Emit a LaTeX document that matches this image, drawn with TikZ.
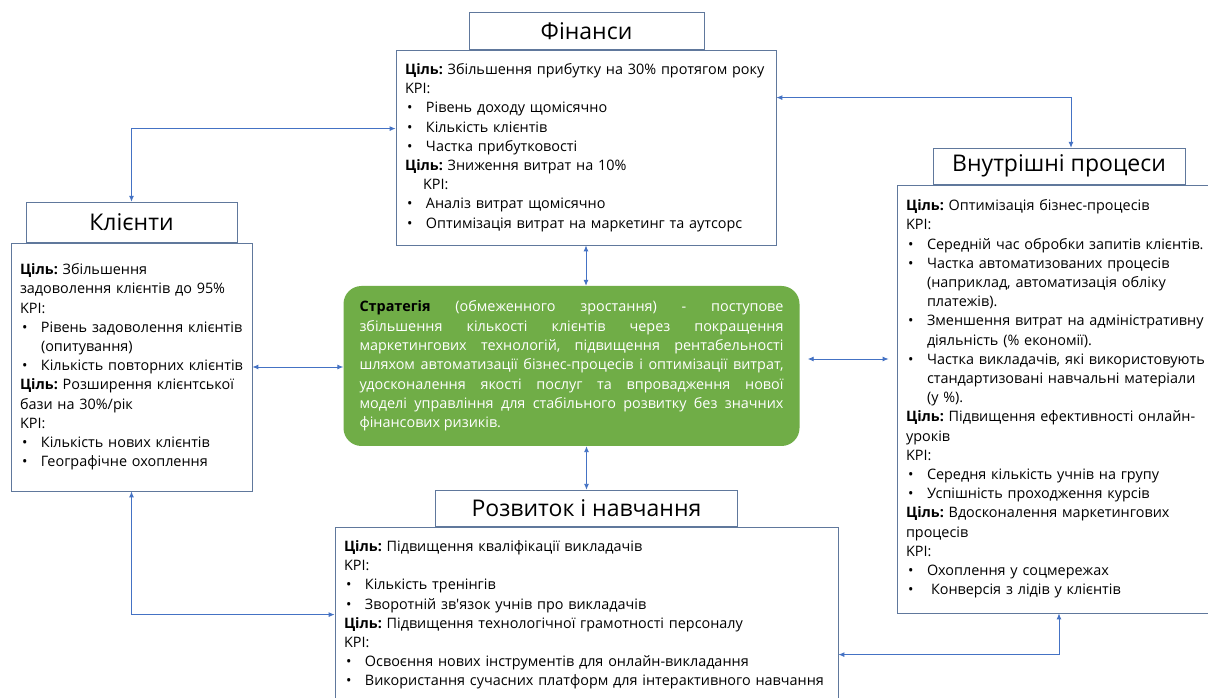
\documentclass[tikz,border=0pt]{standalone}
\usepackage{fontspec}
\setmainfont{Open Sans}
\usepackage{xcolor}
\usetikzlibrary{arrows.meta, positioning, calc}

\definecolor{boxline}{RGB}{96,120,156}
\definecolor{linkblue}{RGB}{68,114,196}
\definecolor{stratgreen}{RGB}{112,173,71}

\newcommand{\goal}{\textbf{Ціль:} }
\newcommand{\itm}{\makebox[21pt][l]{\hspace{2pt}•}}
\newcommand{\cnt}{\hspace*{21pt}}
\frenchspacing

\begin{document}
\begin{tikzpicture}[
    x=1pt, y=1pt,
    panel/.style={rectangle, draw=boxline, fill=white, line width=0.8pt, align=left, inner xsep=9pt, inner ysep=0pt, font=\fontsize{14.4}{19.2}\selectfont},
    heading/.style={rectangle, draw=boxline, fill=white, line width=0.8pt, minimum height=37pt, font=\fontsize{23}{26}\selectfont},
    strategy/.style={rectangle, rounded corners=18pt, fill=stratgreen, text width=424pt, align=justify, inner xsep=16pt, minimum height=160pt, font=\fontsize{14.4}{19.3}\selectfont, text=white},
    arrow/.style={{Latex[length=6pt,width=5pt]}-{Latex[length=6pt,width=5pt]}, linkblue, line width=0.9pt}
]
\useasboundingbox[fill=white] (0,0) rectangle (1208,697);

% Finance
\node[panel, text width=362pt, minimum height=195pt] (fin) at (586,549.5) {%
\goal Збільшення прибутку на 30\% протягом року\\
KPI:\\
\itm Рівень доходу щомісячно\\
\itm Кількість клієнтів\\
\itm Частка прибутковості\\
\goal Зниження витрат на 10\%\\
\hspace*{18pt}KPI:\\
\itm Аналіз витрат щомісячно\\
\itm Оптимізація витрат на маркетинг та аутсорс};
\node[heading, above=0pt of fin, xshift=0.5pt, minimum width=235pt] (fintitle) {Фінанси};

% Clients
\node[panel, text width=223pt, minimum height=248pt] (kl) at (131.5,330) {%
\goal Збільшення\\
задоволення клієнтів до 95\%\\
KPI:\\
\itm Рівень задоволення клієнтів\\
\cnt(опитування)\\
\itm Кількість повторних клієнтів\\
\goal Розширення клієнтської\\
бази на 30\%/рік\\
KPI:\\
\itm Кількість нових клієнтів\\
\itm Географічне охоплення};
\node[heading, above=0pt of kl, minimum width=211pt, minimum height=40pt] (kltitle) {Клієнти};

% Internal processes
\node[panel, text width=320pt, minimum height=428pt] (vp) at (1066,298) {%
\goal Оптимізація бізнес-процесів\\
KPI:\\
\itm Середній час обробки запитів клієнтів.\\
\itm Частка автоматизованих процесів\\
\cnt(наприклад, автоматизація обліку\\
\cnt платежів).\\
\itm Зменшення витрат на адміністративну\\
\cnt діяльність (\% економії).\\
\itm Частка викладачів, які використовують\\
\cnt стандартизовані навчальні матеріали\\
\cnt(у \%).\\
\goal Підвищення ефективності онлайн-\\
уроків\\
KPI:\\
\itm Середня кількість учнів на групу\\
\itm Успішність проходження курсів\\
\goal Вдосконалення маркетингових\\
процесів\\
KPI:\\
\itm Охоплення у соцмережах\\
\itm\hspace*{4pt}Конверсія з лідів у клієнтів};
\node[heading, above=0pt of vp, xshift=-7pt, minimum width=252pt, minimum height=36pt] (vptitle) {Внутрішні процеси};

% Learning and growth
\node[panel, text width=485pt, minimum height=176pt] (rn) at (586.5,82) {%
\goal Підвищення кваліфікації викладачів\\
KPI:\\
\itm Кількість тренінгів\\
\itm Зворотній зв\textquotesingle язок учнів про викладачів\\
\goal Підвищення технологічної грамотності персоналу\\
KPI:\\
\itm Освоєння нових інструментів для онлайн-викладання\\
\itm Використання сучасних платформ для інтерактивного навчання};
\node[heading, above=0pt of rn, minimum width=302pt, minimum height=36pt] (rntitle) {Розвиток і навчання};

% Strategy
\node[strategy] (str) at (571.5,331) {%
\hyphenpenalty=10000\exhyphenpenalty=10000\relax
\textcolor{black}{\textbf{Стратегія}} (обмеженного зростання) - поступове\linebreak
збільшення кількості клієнтів через покращення\linebreak
маркетингових технологій, підвищення рентабельності\linebreak
шляхом автоматизації бізнес-процесів і оптимізації витрат,\linebreak
удосконалення якості послуг та впровадження нової\linebreak
моделі управління для стабільного розвитку без значних\linebreak
фінансових ризиків.};

% Links
\draw[arrow] (kltitle.north) |- ([yshift=-79pt]fin.north west);
\draw[arrow] ([yshift=-48pt]fin.north east) -| ([xshift=12pt]vptitle.north);
\draw[arrow] (kl.east) -- (kl.east -| str.west);
\draw[arrow, shorten <=8pt, shorten >=8pt] ([yshift=7pt]str.east) -- ([yshift=7pt]str.east -| vp.west);
\draw[arrow] (fin.south) -- (fin.south |- str.north);
\draw[arrow] (rntitle.north |- str.south) -- (rntitle.north);
\draw[arrow] (kl.south) |- ([yshift=-88pt]rn.north west);
\draw[arrow] ([xshift=-7pt]vp.south) |- ([yshift=-128pt]rn.north east);

\end{tikzpicture}
\end{document}
